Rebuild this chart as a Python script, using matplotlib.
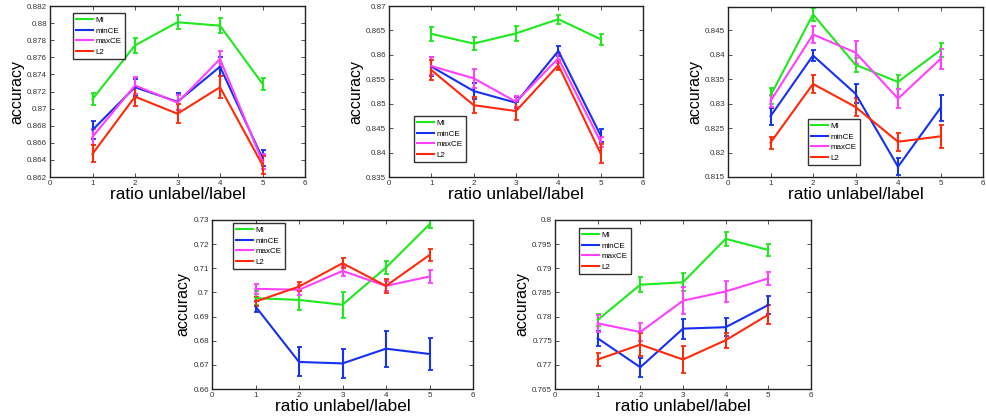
import matplotlib
matplotlib.use("Agg")
import matplotlib.pyplot as plt
from matplotlib.lines import Line2D

plt.rcParams['font.family'] = ['Liberation Sans', 'DejaVu Sans']

ratios = [1, 2, 3, 4, 5]
methods = ['MI', 'minCE', 'maxCE', 'L2']
colors = {'MI': '#1ee81e', 'minCE': '#1530f0', 'maxCE': '#ff40ff', 'L2': '#ff2a0a'}

# Panel 1
p1_MI = [0.8711, 0.8774, 0.8801, 0.8797, 0.8729]
p1_MI_err = [0.0007, 0.0009, 0.0008, 0.0009, 0.0007]
p1_minCE = [0.8675, 0.8725, 0.8708, 0.8749, 0.8642]
p1_minCE_err = [0.0010, 0.0010, 0.0010, 0.0011, 0.0009]
p1_maxCE = [0.8667, 0.8727, 0.8707, 0.8758, 0.8638]
p1_maxCE_err = [0.0009, 0.0010, 0.0009, 0.0009, 0.0009]
p1_L2 = [0.8647, 0.8714, 0.8694, 0.8725, 0.8634]
p1_L2_err = [0.0010, 0.0011, 0.0011, 0.0013, 0.0010]

# Panel 2
p2_MI = [0.8643, 0.8623, 0.8644, 0.8673, 0.8632]
p2_MI_err = [0.0014, 0.0014, 0.0015, 0.0009, 0.0011]
p2_minCE = [0.8576, 0.8526, 0.8502, 0.8608, 0.8435]
p2_minCE_err = [0.0020, 0.0017, 0.0011, 0.0011, 0.0014]
p2_maxCE = [0.8577, 0.8552, 0.8504, 0.8593, 0.8422]
p2_maxCE_err = [0.0019, 0.0020, 0.0011, 0.0010, 0.0010]
p2_L2 = [0.8569, 0.8497, 0.8485, 0.8579, 0.8398]
p2_L2_err = [0.0020, 0.0017, 0.0019, 0.0010, 0.0019]

# Panel 3
p3_MI = [0.8316, 0.8482, 0.8379, 0.8344, 0.8409]
p3_MI_err = [0.0016, 0.0013, 0.0014, 0.0015, 0.0015]
p3_minCE = [0.8274, 0.8398, 0.8320, 0.8171, 0.8291]
p3_minCE_err = [0.0017, 0.0012, 0.0019, 0.0017, 0.0027]
p3_maxCE = [0.8305, 0.8441, 0.8404, 0.8310, 0.8391]
p3_maxCE_err = [0.0012, 0.0017, 0.0023, 0.0020, 0.0021]
p3_L2 = [0.8220, 0.8340, 0.8293, 0.8222, 0.8233]
p3_L2_err = [0.0012, 0.0018, 0.0019, 0.0018, 0.0024]

# Panel 4
p4_MI = [0.6976, 0.6969, 0.6949, 0.7103, 0.7282]
p4_MI_err = [0.0028, 0.0040, 0.0053, 0.0028, 0.0017]
p4_minCE = [0.6942, 0.6712, 0.6706, 0.6767, 0.6745]
p4_minCE_err = [0.0022, 0.0060, 0.0060, 0.0075, 0.0065]
p4_maxCE = [0.7015, 0.7011, 0.7089, 0.7027, 0.7066]
p4_maxCE_err = [0.0020, 0.0020, 0.0020, 0.0020, 0.0027]
p4_L2 = [0.6962, 0.7024, 0.7121, 0.7027, 0.7155]
p4_L2_err = [0.0020, 0.0020, 0.0020, 0.0028, 0.0024]

# Panel 5
p5_MI = [0.7793, 0.7866, 0.7871, 0.7961, 0.7938]
p5_MI_err = [0.0012, 0.0015, 0.0019, 0.0014, 0.0012]
p5_minCE = [0.7755, 0.7695, 0.7775, 0.7778, 0.7824]
p5_minCE_err = [0.0016, 0.0020, 0.0021, 0.0019, 0.0018]
p5_maxCE = [0.7786, 0.7768, 0.7833, 0.7852, 0.7879]
p5_maxCE_err = [0.0017, 0.0019, 0.0028, 0.0022, 0.0014]
p5_L2 = [0.7711, 0.7742, 0.7711, 0.7751, 0.7804]
p5_L2_err = [0.0013, 0.0024, 0.0028, 0.0016, 0.0019]

xticks = [0, 1, 2, 3, 4, 5, 6]
p1_yticks = [0.862, 0.864, 0.866, 0.868, 0.87, 0.872, 0.874, 0.876, 0.878, 0.88, 0.882]
p2_yticks = [0.835, 0.84, 0.845, 0.85, 0.855, 0.86, 0.865, 0.87]
p3_yticks = [0.815, 0.82, 0.825, 0.83, 0.835, 0.84, 0.845]
p4_yticks = [0.66, 0.67, 0.68, 0.69, 0.7, 0.71, 0.72, 0.73]
p5_yticks = [0.765, 0.77, 0.775, 0.78, 0.785, 0.79, 0.795, 0.8]

panels = [
    dict(rect=[50/986, 1-177/418, 255/986, 171/418],
         data=[(p1_MI, p1_MI_err), (p1_minCE, p1_minCE_err), (p1_maxCE, p1_maxCE_err), (p1_L2, p1_L2_err)],
         ylim=(0.862, 0.882), yticks=p1_yticks, leg=(0.090, 0.959)),
    dict(rect=[389/986, 1-177/418, 254/986, 171/418],
         data=[(p2_MI, p2_MI_err), (p2_minCE, p2_minCE_err), (p2_maxCE, p2_maxCE_err), (p2_L2, p2_L2_err)],
         ylim=(0.835, 0.87), yticks=p2_yticks, leg=(0.098, 0.357)),
    dict(rect=[728/986, 1-177/418, 255/986, 170/418],
         data=[(p3_MI, p3_MI_err), (p3_minCE, p3_minCE_err), (p3_maxCE, p3_maxCE_err), (p3_L2, p3_L2_err)],
         ylim=(0.815, 0.8497), yticks=p3_yticks, leg=(0.314, 0.341)),
    dict(rect=[212/986, 1-389/418, 261/986, 169/418],
         data=[(p4_MI, p4_MI_err), (p4_minCE, p4_minCE_err), (p4_maxCE, p4_maxCE_err), (p4_L2, p4_L2_err)],
         ylim=(0.66, 0.73), yticks=p4_yticks, leg=(0.080, 0.982)),
    dict(rect=[555/986, 1-389/418, 256/986, 169/418],
         data=[(p5_MI, p5_MI_err), (p5_minCE, p5_minCE_err), (p5_maxCE, p5_maxCE_err), (p5_L2, p5_L2_err)],
         ylim=(0.765, 0.8), yticks=p5_yticks, leg=(0.094, 0.953)),
]

fig = plt.figure(figsize=(9.86, 4.18), dpi=100)
for p in panels:
    ax = fig.add_axes(p['rect'])
    for name, (vals, errs) in zip(methods, p['data']):
        ax.errorbar(ratios, vals, yerr=errs, color=colors[name], lw=1.5,
                    elinewidth=1.5, capsize=1.8, capthick=1.3, label=name)
    ax.set_xlim(0, 6)
    ax.set_ylim(*p['ylim'])
    ax.set_xticks(xticks)
    ax.set_yticks(p['yticks'])
    ax.set_yticklabels([('%g' % v) for v in p['yticks']])
    ax.tick_params(direction='in', length=3, width=0.6, labelsize=5.8,
                   top=True, right=True, colors='#333333', labelcolor='#333333', pad=2)
    for s in ax.spines.values():
        s.set_linewidth(1.0)
        s.set_color('#222222')
    ax.set_xlabel('ratio unlabel/label', fontsize=12.4, labelpad=0)
    ax.set_ylabel('accuracy', fontsize=11.5, labelpad=2)
    hs = [Line2D([], [], color=colors[m], lw=1.5) for m in methods]
    leg = ax.legend(hs, methods, loc='upper left', bbox_to_anchor=p['leg'],
                    fontsize=5.8, frameon=True, fancybox=False, handlelength=2.1,
                    handletextpad=0.3, labelspacing=0.38, borderpad=0.4,
                    borderaxespad=0)
    leg.get_frame().set_edgecolor('black')
    leg.get_frame().set_linewidth(1.0)

fig.savefig('out.png', dpi=100)
